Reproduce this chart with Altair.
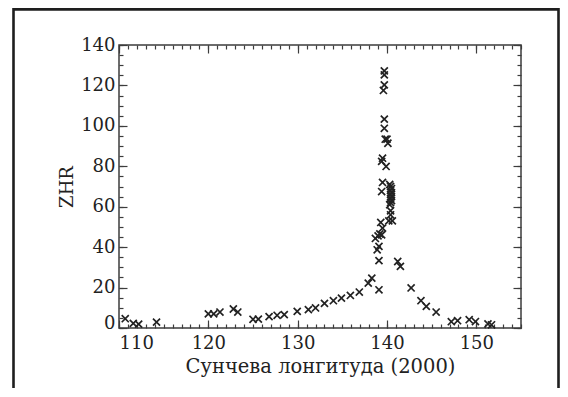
import altair as alt
import pandas as pd

# Solar longitude (J2000) and ZHR values
LON = [110.7, 111.6, 112.2, 114.2, 120.0, 120.6, 121.3, 122.8, 123.3, 125.0,
       125.6, 126.8, 127.7, 128.5, 129.95, 131.2, 132.0, 133.0, 134.0, 134.9,
       135.9, 136.9, 137.9, 138.3, 139.1, 139.1, 138.9, 139.1, 138.7, 139.0,
       139.2, 139.4, 139.5, 139.3, 139.4, 139.5, 139.4, 139.5, 139.9, 139.7,
       139.7, 139.8, 140.0, 140.1, 139.6, 139.7, 139.7, 139.7,
       140.3, 140.4, 140.5, 140.4, 140.5, 140.4, 140.5, 140.4, 140.5, 140.4,
       140.3, 140.4, 140.4, 140.2, 140.6,
       141.2, 141.5, 142.7, 143.8, 144.4, 145.5, 147.2, 147.9, 149.2, 149.9,
       151.3, 151.7]
ZHR = [4.6, 2.3, 1.9, 2.9, 7.0, 7.0, 7.9, 9.4, 7.9, 4.3,
       4.4, 5.6, 6.3, 6.6, 8.2, 9.1, 9.9, 12.2, 13.5, 14.8,
       16.1, 17.8, 22.2, 24.7, 18.9, 33.3, 38.7, 40.4, 44.3, 45.6,
       46.5, 46.1, 49.4, 52.2, 67.5, 72.0, 82.4, 84.0, 79.9, 98.8,
       103.3, 93.4, 93.4, 91.4, 117.5, 120.3, 125.2, 127.2,
       71.0, 70.0, 69.0, 68.0, 67.0, 66.0, 65.0, 64.0, 63.0, 62.0,
       61.0, 58.0, 56.0, 53.0, 53.0,
       32.9, 30.5, 19.8, 13.5, 10.7, 7.9, 3.1, 3.6, 4.1, 3.2,
       2.0, 1.6]

X_MAJOR = [110, 120, 130, 140, 150]
X_MINOR = list(range(110, 156))
Y_MAJOR = [0, 20, 40, 60, 80, 100, 120, 140]
Y_MINOR = list(range(0, 141, 5))

X_TITLE = "Сунчева лонгитуда (2000)"
Y_TITLE = "ZHR"

df = pd.DataFrame({"lon": LON, "zhr": ZHR})

W, H = 402, 283
FONT = "DejaVu Serif"
INK = "#222222"
AXC = "#3c3c3c"

xs = alt.Scale(domain=[110, 155], nice=False, zero=False)
ys = alt.Scale(domain=[0, 140], nice=False, zero=False)


def ax(orient, values, size, labels=False, title="", vertical=False):
    kw = dict(orient=orient, values=values, tickSize=size, offset=-size,
              domain=False, grid=False, labels=labels, tickColor=AXC,
              tickWidth=1.2, title=title)
    if labels:
        kw.update(labelFont=FONT, labelFontSize=18, labelColor=INK)
        if vertical:
            kw.update(labelPadding=4,
                      labelOffset={"condition": {"test": "datum.value === 0", "value": -5},
                                   "value": 0})
        else:
            kw.update(labelPadding=6)
    if title:
        kw.update(titleFont=FONT, titleColor=INK, titleFontWeight="normal")
        if vertical:
            kw.update(titleFontSize=18, titlePadding=4)
        else:
            kw.update(titleFontSize=19.5, titlePadding=5)
    return alt.Axis(**kw)


base = alt.Chart(df)

pts = base.mark_point(
    shape="M-1,-1L1,1M-1,1L1,-1", filled=False, color=INK, strokeWidth=1.7,
    size=50, opacity=1
).encode(
    x=alt.X("lon:Q", scale=xs, axis=ax("bottom", X_MAJOR, 8, labels=True, title=X_TITLE)),
    y=alt.Y("zhr:Q", scale=ys, axis=ax("left", Y_MAJOR, 8, labels=True, title=Y_TITLE, vertical=True)),
)

minor_bl = base.mark_point(opacity=0).encode(
    x=alt.X("lon:Q", scale=xs, axis=ax("bottom", X_MINOR, 4)),
    y=alt.Y("zhr:Q", scale=ys, axis=ax("left", Y_MINOR, 4, vertical=True)),
)

major_tr = base.mark_point(opacity=0).encode(
    x=alt.X("lon:Q", scale=xs, axis=ax("top", X_MAJOR, 8)),
    y=alt.Y("zhr:Q", scale=ys, axis=ax("right", Y_MAJOR, 8, vertical=True)),
)

minor_tr = base.mark_point(opacity=0).encode(
    x=alt.X("lon:Q", scale=xs, axis=ax("top", X_MINOR, 4)),
    y=alt.Y("zhr:Q", scale=ys, axis=ax("right", Y_MINOR, 4, vertical=True)),
)

# outer page frame (decoration, open at the bottom)
frame = alt.Chart(pd.DataFrame({"k": [0]})).mark_rect(
    fillOpacity=0, stroke="#1e1e1e", strokeWidth=2.6
).encode(
    x=alt.value(-105.5), x2=alt.value(439.5), y=alt.value(-35.6), y2=alt.value(420)
)

chart = alt.layer(minor_bl, major_tr, minor_tr, pts, frame).resolve_axis(
    x="independent", y="independent"
).properties(
    width=W, height=H, autosize="none",
    padding={"left": 111, "top": 37, "right": 39, "bottom": 60},
    background="white",
).configure_view(stroke=AXC, strokeWidth=1.5)

chart.save("out.html", embed_options={"renderer": "svg", "actions": False})
